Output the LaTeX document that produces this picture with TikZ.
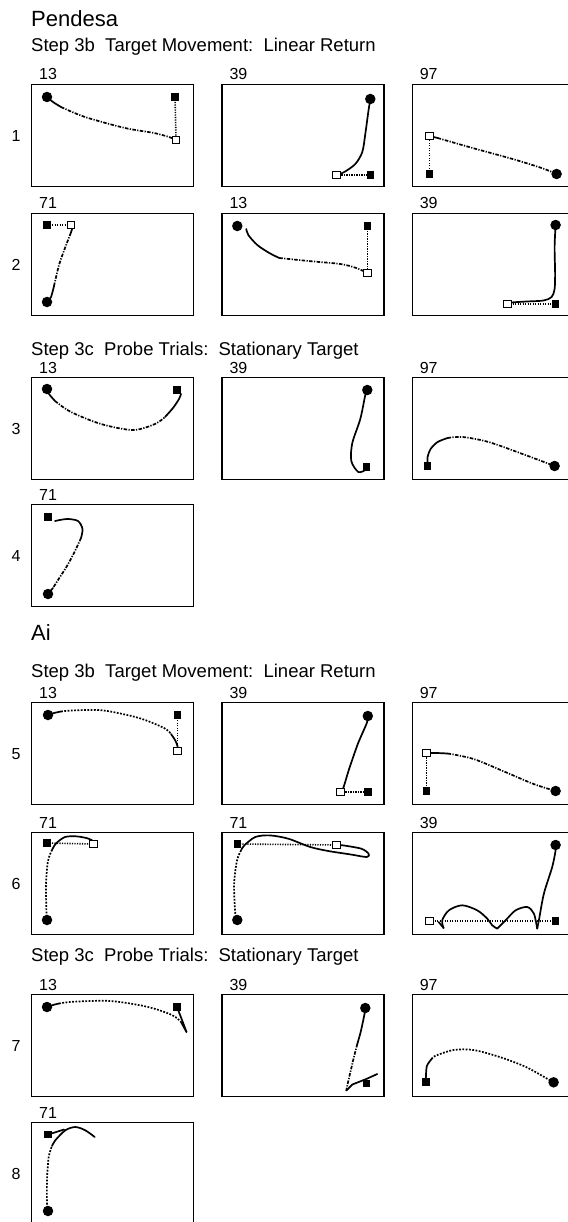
\documentclass[tikz,border=0pt]{standalone}
\usepackage{fontspec}
\setmainfont{Liberation Sans}
\usetikzlibrary{positioning}

\begin{document}
\begin{tikzpicture}[
    x=1pt, y=-1pt,
    node distance=27pt,
    panel/.style={draw, line width=1.3pt, minimum width=162pt, minimum height=102pt, inner sep=0pt, anchor=north west},
    subject/.style={anchor=base west, inner sep=0pt, font=\fontsize{22}{26}\selectfont},
    steptitle/.style={anchor=base west, inner sep=0pt, font=\fontsize{18.5}{22}\selectfont},
    trial/.style={anchor=base west, inner sep=0pt, font=\fontsize{16}{19}\selectfont},
    rowno/.style={inner sep=0pt, font=\fontsize{16}{19}\selectfont},
    handpath/.style={line width=1.7pt, line cap=round, line join=round},
    handfast/.style={line width=1.7pt, dash pattern=on 3.5pt off 1.4pt on 1.2pt off 1.4pt},
    handdot/.style={line width=1.7pt, dash pattern=on 1.8pt off 1.5pt},
    tgtpath/.style={line width=1.6pt, dash pattern=on 1.2pt off 1.3pt},
    hand/.style={circle, fill, inner sep=0pt, minimum size=10.5pt},
    tgtbox/.style={fill, inner sep=0pt, minimum size=7.5pt},
    endbox/.style={draw, fill=white, line width=0.9pt, inner sep=0pt, minimum size=7.5pt}
]
\useasboundingbox (0,0) rectangle (567,1222);

% headings
\node[subject] (pen) at (31,27) {Pendesa};
\node[steptitle] (s1) at (31,52) {Step 3b\ \ Target Movement:\ \ Linear Return};
\node[steptitle] (s2) at (31,355) {Step 3c\ \ Probe Trials:\ \ Stationary Target};
\node[subject] (ai) at (31,640) {Ai};
\node[steptitle] (s3) at (31,677) {Step 3b\ \ Target Movement:\ \ Linear Return};
\node[steptitle] (s4) at (31,961) {Step 3c\ \ Probe Trials:\ \ Stationary Target};

% row 1
\node[panel] (p1a) at (31,84) {};
\node[panel, right=of p1a] (p1b) {};
\node[panel, right=of p1b] (p1c) {};
\node[rowno] at ([xshift=-15pt]p1a.west) {1};
\node[trial] at ([xshift=8pt,yshift=4pt]p1a.north west) {13};
\node[trial] at ([xshift=8pt,yshift=4pt]p1b.north west) {39};
\node[trial] at ([xshift=8pt,yshift=4pt]p1c.north west) {97};

\begin{scope}[shift={(p1a.north west)}]
  \coordinate (h1a) at (16,13); \coordinate (t1a) at (144,13); \coordinate (e1a) at (145,56);
  \draw[tgtpath] (t1a) -- (e1a);
  \draw[handpath] plot[smooth] coordinates {(h1a) (22,18) (30,23)};
  \draw[handfast] plot[smooth] coordinates {(30,23) (54,33) (94,44) (123,49) (138,53) (e1a)};
  \node[hand] at (h1a) {}; \node[tgtbox] at (t1a) {}; \node[endbox] at (e1a) {};
\end{scope}
\begin{scope}[shift={(p1b.north west)}]
  \coordinate (h1b) at (149,15); \coordinate (t1b) at (149,91); \coordinate (e1b) at (115,91);
  \draw[tgtpath] (e1b) -- (t1b);
  \draw[handpath] plot[smooth] coordinates {(h1b) (147,28) (144,50) (141,68) (134,80) (123,88) (e1b)};
  \node[hand] at (h1b) {}; \node[tgtbox] at (t1b) {}; \node[endbox] at (e1b) {};
\end{scope}
\begin{scope}[shift={(p1c.north west)}]
  \coordinate (h1c) at (145,90); \coordinate (t1c) at (18,90); \coordinate (e1c) at (18,52);
  \draw[tgtpath] (t1c) -- (e1c);
  \draw[handpath] plot[smooth] coordinates {(e1c) (26,54)};
  \draw[handfast] plot[smooth] coordinates {(26,54) (61,64) (101,75) (130,84) (h1c)};
  \node[hand] at (h1c) {}; \node[tgtbox] at (t1c) {}; \node[endbox] at (e1c) {};
\end{scope}

% row 2
\node[panel] (p2a) at (31,213) {};
\node[panel, right=of p2a] (p2b) {};
\node[panel, right=of p2b] (p2c) {};
\node[rowno] at ([xshift=-15pt]p2a.west) {2};
\node[trial] at ([xshift=8pt,yshift=4pt]p2a.north west) {71};
\node[trial] at ([xshift=8pt,yshift=4pt]p2b.north west) {13};
\node[trial] at ([xshift=8pt,yshift=4pt]p2c.north west) {39};

\begin{scope}[shift={(p2a.north west)}]
  \coordinate (h2a) at (16,89); \coordinate (t2a) at (16,12); \coordinate (e2a) at (40,12);
  \draw[tgtpath] (t2a) -- (e2a);
  \draw[handpath] plot[smooth] coordinates {(h2a) (20,84) (23,73)};
  \draw[handfast] plot[smooth] coordinates {(23,73) (28,52) (34,35) (39,22)};
  \draw[handpath] plot[smooth] coordinates {(39,22) (41,16) (e2a)};
  \node[hand] at (h2a) {}; \node[tgtbox] at (t2a) {}; \node[endbox] at (e2a) {};
\end{scope}
\begin{scope}[shift={(p2b.north west)}]
  \coordinate (h2b) at (16,13); \coordinate (t2b) at (146,13); \coordinate (e2b) at (146,60);
  \draw[tgtpath] (t2b) -- (e2b);
  \draw[handpath] plot[smooth] coordinates {(25,16) (27,22) (36,32) (48,40) (58,45)};
  \draw[handfast] plot[smooth] coordinates {(58,45) (87,48) (119,51) (135,55) (e2b)};
  \node[hand] at (h2b) {}; \node[tgtbox] at (t2b) {}; \node[endbox] at (e2b) {};
\end{scope}
\begin{scope}[shift={(p2c.north west)}]
  \coordinate (h2c) at (144,12); \coordinate (t2c) at (144,91); \coordinate (e2c) at (96,91);
  \draw[tgtpath] (e2c) -- (t2c);
  \draw[handpath] plot[smooth] coordinates {(h2c) (143,34) (143.5,60) (143,76) (140,84) (132,87.5) (115,88.5) (100,89.5) (e2c)};
  \node[hand] at (h2c) {}; \node[tgtbox] at (t2c) {}; \node[endbox] at (e2c) {};
\end{scope}

% row 3
\node[panel] (p3a) at (31,377) {};
\node[panel, right=of p3a] (p3b) {};
\node[panel, right=of p3b] (p3c) {};
\node[rowno] at ([xshift=-15pt]p3a.west) {3};
\node[trial] at ([xshift=8pt,yshift=4pt]p3a.north west) {13};
\node[trial] at ([xshift=8pt,yshift=4pt]p3b.north west) {39};
\node[trial] at ([xshift=8pt,yshift=4pt]p3c.north west) {97};

\begin{scope}[shift={(p3a.north west)}]
  \coordinate (h3a) at (16,12); \coordinate (t3a) at (146,13);
  \draw[handpath] plot[smooth] coordinates {(h3a) (18,17) (24,24)};
  \draw[handfast] plot[smooth] coordinates {(24,24) (40,35) (70,47) (102,53) (124,47) (134,40)};
  \draw[handpath] plot[smooth] coordinates {(134,40) (142,31) (148,22) (150,17)};
  \node[hand] at (h3a) {}; \node[tgtbox] at (t3a) {};
\end{scope}
\begin{scope}[shift={(p3b.north west)}]
  \coordinate (h3b) at (146,13); \coordinate (t3b) at (145,90);
  \draw[handpath] plot[smooth] coordinates {(h3b) (144,18) (139,42) (131,66) (130,84) (137,95) (144,93)};
  \node[hand] at (h3b) {}; \node[tgtbox] at (t3b) {};
\end{scope}
\begin{scope}[shift={(p3c.north west)}]
  \coordinate (h3c) at (143,89); \coordinate (t3c) at (16,89);
  \draw[handpath] plot[smooth] coordinates {(t3c) (16,80) (19,72) (26,65) (36,61)};
  \draw[handfast] plot[smooth] coordinates {(36,61) (51,60) (77,65) (111,77) (h3c)};
  \node[hand] at (h3c) {}; \node[tgtbox] at (t3c) {};
\end{scope}

% row 4
\node[panel] (p4a) at (31,504) {};
\node[rowno] at ([xshift=-15pt]p4a.west) {4};
\node[trial] at ([xshift=8pt,yshift=4pt]p4a.north west) {71};

\begin{scope}[shift={(p4a.north west)}]
  \coordinate (h4a) at (17,90); \coordinate (t4a) at (17,13);
  \draw[handpath] plot[smooth] coordinates {(24,17) (36,15) (47,17) (51.5,25) (50,34)};
  \draw[handfast] plot[smooth] coordinates {(50,34) (44,47) (36,62) (27,76) (22,84)};
  \draw[handpath] (22,84) -- (h4a);
  \node[hand] at (h4a) {}; \node[tgtbox] at (t4a) {};
\end{scope}

% row 5
\node[panel] (p5a) at (31,702) {};
\node[panel, right=of p5a] (p5b) {};
\node[panel, right=of p5b] (p5c) {};
\node[rowno] at ([xshift=-15pt]p5a.west) {5};
\node[trial] at ([xshift=8pt,yshift=4pt]p5a.north west) {13};
\node[trial] at ([xshift=8pt,yshift=4pt]p5b.north west) {39};
\node[trial] at ([xshift=8pt,yshift=4pt]p5c.north west) {97};

\begin{scope}[shift={(p5a.north west)}]
  \coordinate (h5a) at (17,13); \coordinate (t5a) at (146.5,13); \coordinate (e5a) at (146.5,49);
  \draw[tgtpath] (t5a) -- (e5a);
  \draw[handpath] plot[smooth] coordinates {(h5a) (23,11) (30,9.5)};
  \draw[handdot] plot[smooth] coordinates {(30,9.5) (43,8.4) (72,8.4) (108,16) (133,26) (140,32)};
  \draw[handpath] plot[smooth] coordinates {(140,32) (144,38) (146.5,44) (e5a)};
  \node[hand] at (h5a) {}; \node[tgtbox] at (t5a) {}; \node[endbox] at (e5a) {};
\end{scope}
\begin{scope}[shift={(p5b.north west)}]
  \coordinate (h5b) at (146.5,14); \coordinate (t5b) at (146.5,90); \coordinate (e5b) at (119,90);
  \draw[tgtpath] (e5b) -- (t5b);
  \draw[handpath] plot[smooth] coordinates {(h5b) (145.5,21) (136.5,42) (127.5,68) (122,86) (e5b)};
  \node[hand] at (h5b) {}; \node[tgtbox] at (t5b) {}; \node[endbox] at (e5b) {};
\end{scope}
\begin{scope}[shift={(p5c.north west)}]
  \coordinate (h5c) at (144,89); \coordinate (t5c) at (15,89); \coordinate (e5c) at (15,51);
  \draw[tgtpath] (t5c) -- (e5c);
  \draw[handpath] plot[smooth] coordinates {(e5c) (25,51) (36,51.5)};
  \draw[handfast] plot[smooth] coordinates {(36,51.5) (62,57) (96,71) (122,82) (h5c)};
  \node[hand] at (h5c) {}; \node[tgtbox] at (t5c) {}; \node[endbox] at (e5c) {};
\end{scope}

% row 6
\node[panel] (p6a) at (31,832) {};
\node[panel, right=of p6a] (p6b) {};
\node[panel, right=of p6b] (p6c) {};
\node[rowno] at ([xshift=-15pt]p6a.west) {6};
\node[trial] at ([xshift=8pt,yshift=4pt]p6a.north west) {71};
\node[trial] at ([xshift=8pt,yshift=4pt]p6b.north west) {71};
\node[trial] at ([xshift=8pt,yshift=4pt]p6c.north west) {39};

\begin{scope}[shift={(p6a.north west)}]
  \coordinate (h6a) at (16,88); \coordinate (t6a) at (16,11); \coordinate (e6a) at (62.5,12);
  \draw[tgtpath] (t6a) -- (e6a);
  \draw[handdot] plot[smooth] coordinates {(h6a) (15.5,82) (15,52) (17,29) (21,18)};
  \draw[handpath] plot[smooth] coordinates {(21,18) (25,11.5) (34,5) (46,4.4) (57,6.5) (64,10)};
  \node[hand] at (h6a) {}; \node[tgtbox] at (t6a) {}; \node[endbox] at (e6a) {};
\end{scope}
\begin{scope}[shift={(p6b.north west)}]
  \coordinate (h6b) at (16,88); \coordinate (t6b) at (16,12); \coordinate (e6b) at (115,13);
  \draw[tgtpath] (t6b) -- (e6b);
  \draw[handdot] plot[smooth] coordinates {(h6b) (14,81.6) (12.8,52) (15.7,28.5) (20,18)};
  \draw[handpath] plot[smooth] coordinates {(20,18) (23,13.4) (34,5) (48.6,3.4) (67,6.7) (89,15) (107,19) (129,22.4) (145.5,25) (147.3,21.7) (140,16.7) (122,13.4) (e6b)};
  \node[hand] at (h6b) {}; \node[tgtbox] at (t6b) {}; \node[endbox] at (e6b) {};
\end{scope}
\begin{scope}[shift={(p6c.north west)}]
  \coordinate (h6c) at (144,13); \coordinate (t6c) at (144,89); \coordinate (e6c) at (18,89);
  \draw[tgtpath] (e6c) -- (t6c);
  \draw[handpath] plot[smooth] coordinates {(h6c) (144,18.3) (140.6,35) (132.3,61.6) (127.3,88.3) (125.6,96.6)};
  \draw[handpath] plot[smooth] coordinates {(125.6,96.6) (122.3,81.6) (115.6,75) (104,78.3) (94,88.3) (85.6,96.6)};
  \draw[handpath] plot[smooth] coordinates {(85.6,96.6) (80.6,93.3) (75.6,86.6) (65.6,78.3) (50.6,73.3) (37.3,78.3) (30.6,88.3) (32,96)};
  \draw[handpath] (32,96) -- (27,90);
  \node[hand] at (h6c) {}; \node[tgtbox] at (t6c) {}; \node[endbox] at (e6c) {};
\end{scope}

% row 7
\node[panel] (p7a) at (31,994) {};
\node[panel, right=of p7a] (p7b) {};
\node[panel, right=of p7b] (p7c) {};
\node[rowno] at ([xshift=-15pt]p7a.west) {7};
\node[trial] at ([xshift=8pt,yshift=4pt]p7a.north west) {13};
\node[trial] at ([xshift=8pt,yshift=4pt]p7b.north west) {39};
\node[trial] at ([xshift=8pt,yshift=4pt]p7c.north west) {97};

\begin{scope}[shift={(p7a.north west)}]
  \coordinate (h7a) at (16,13); \coordinate (t7a) at (146,13);
  \draw[handpath] plot[smooth] coordinates {(h7a) (22,11) (28,9.5)};
  \draw[handdot] plot[smooth] coordinates {(28,9.5) (43,7.7) (79.5,7) (116,12.7) (141,21) (150,28)};
  \draw[handpath] (150,28) -- (155.5,38);
  \draw[handpath] plot[smooth] coordinates {(t7a) (151,26) (155.5,38)};
  \node[hand] at (h7a) {}; \node[tgtbox] at (t7a) {};
\end{scope}
\begin{scope}[shift={(p7b.north west)}]
  \coordinate (h7b) at (144,14); \coordinate (t7b) at (145,89.5);
  \draw[handpath] plot[smooth] coordinates {(h7b) (143.4,19) (139.6,37) (136,50)};
  \draw[handfast] plot[smooth] coordinates {(136,50) (132.4,64) (127,87) (125,96.5)};
  \draw[handpath] (125,96.5) -- (131,90.5) -- (145,85) -- (156,80);
  \node[hand] at (h7b) {}; \node[tgtbox] at (t7b) {};
\end{scope}
\begin{scope}[shift={(p7c.north west)}]
  \coordinate (h7c) at (142,88.3); \coordinate (t7c) at (14.3,88);
  \draw[handpath] plot[smooth] coordinates {(t7c) (14.3,83) (15.3,72) (20,65)};
  \draw[handdot] plot[smooth] coordinates {(20,65) (24,61.7) (42,56) (62,56) (89,63.3) (115,73.3) (139,86.7) (h7c)};
  \node[hand] at (h7c) {}; \node[tgtbox] at (t7c) {};
\end{scope}

% row 8
\node[panel] (p8a) at (31,1122) {};
\node[rowno] at ([xshift=-15pt]p8a.west) {8};
\node[trial] at ([xshift=8pt,yshift=4pt]p8a.north west) {71};

\begin{scope}[shift={(p8a.north west)}]
  \coordinate (h8a) at (17,89); \coordinate (t8a) at (17,12.6);
  \draw[handdot] plot[smooth] coordinates {(h8a) (16,83) (16,58) (17.7,35) (21,24)};
  \draw[handpath] plot[smooth] coordinates {(21,24) (24.3,18.3) (34.3,8.3) (44.3,5) (54.3,8.3) (63.7,15)};
  \draw[handpath] (t8a) -- (33,7.5);
  \node[hand] at (h8a) {}; \node[tgtbox] at (t8a) {};
\end{scope}

\end{tikzpicture}
\end{document}
